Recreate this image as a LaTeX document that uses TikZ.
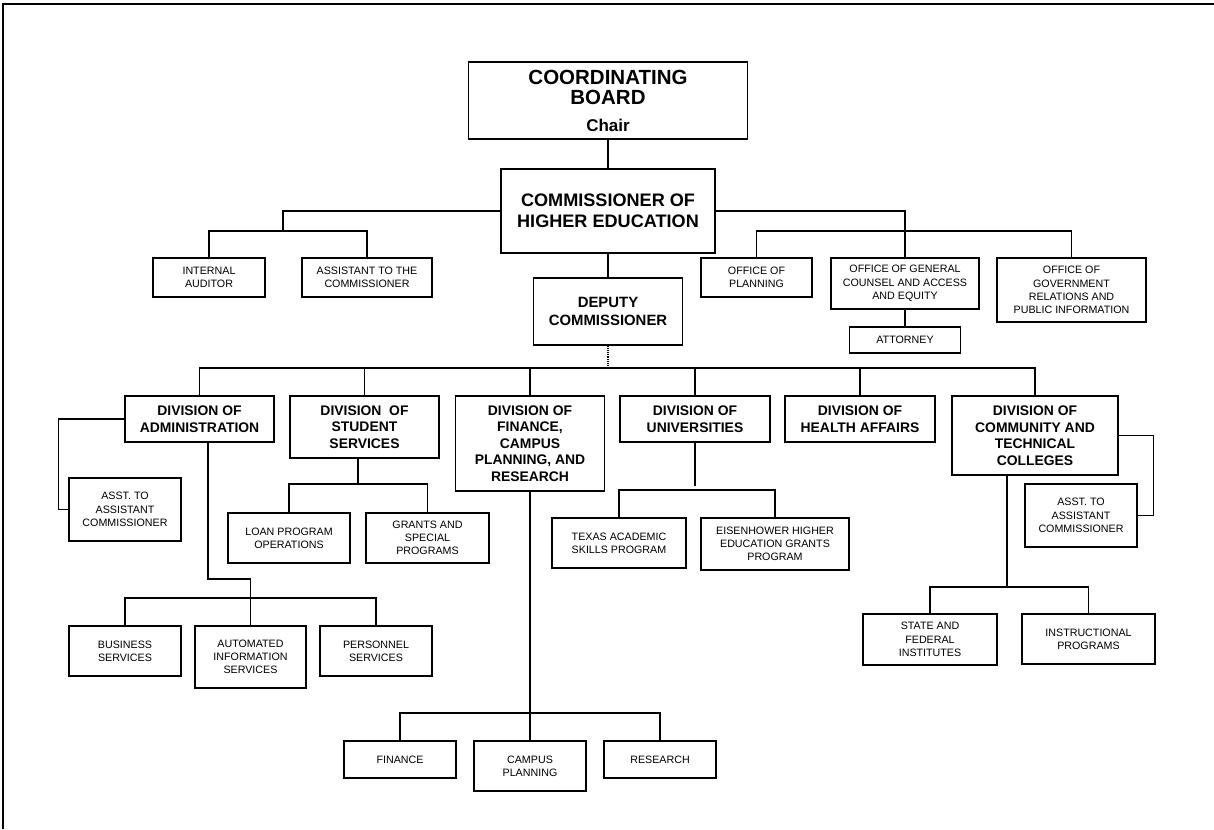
\documentclass[tikz,border=0pt]{standalone}
\usepackage{fontspec}
\setmainfont{Liberation Sans}

\begin{document}
\begin{tikzpicture}[x=1pt,y=-1pt,
    box/.style={draw, line width=1.2pt, align=center, inner sep=0pt},
    small/.style={box, font=\fontsize{10.7}{13.3}\selectfont},
    div/.style={box, font=\fontsize{13.9}{16.5}\selectfont\bfseries},
    wire/.style={line width=1.15pt}]
    \useasboundingbox (0,0) rectangle (1214,829);
    \draw [line width=1.4pt] (3,829) -- (3,4) -- (1214,4);
    % top of the chart
    \node [box, minimum width=279pt, minimum height=77pt, font=\fontsize{20.5}{20}\selectfont\bfseries] (board) at (608,100.5)
        {COORDINATING\\BOARD\\[7pt]{\fontsize{17}{18}\selectfont Chair}};
    \node [box, minimum width=214pt, minimum height=84pt, font=\fontsize{18.1}{20.7}\selectfont\bfseries] (comm) at (608,211) {COMMISSIONER OF\\HIGHER EDUCATION};
    \node [box, minimum width=149pt, minimum height=67pt, font=\fontsize{14.9}{17.7}\selectfont\bfseries] (deputy) at (608,311.5) {DEPUTY\\COMMISSIONER};
    \node [small, minimum width=112pt, minimum height=39pt] (audit) at (209,277.5) {INTERNAL\\AUDITOR};
    \node [small, minimum width=130pt, minimum height=39pt] (assist) at (367,277.5) {ASSISTANT TO THE\\COMMISSIONER};
    \node [small, minimum width=111pt, minimum height=39pt] (plan) at (756.5,277.5) {OFFICE OF\\PLANNING};
    \node [small, minimum width=148pt, minimum height=51pt] (counsel) at (905,283.5) {OFFICE OF GENERAL\\COUNSEL AND ACCESS\\AND EQUITY};
    \node [small, minimum width=111pt, minimum height=26pt] (attorney) at (905,340) {ATTORNEY};
    \node [small, minimum width=149pt, minimum height=64pt] (govt) at (1071.5,290) {OFFICE OF\\GOVERNMENT\\RELATIONS AND\\PUBLIC INFORMATION};
    % divisions
    \node [div, minimum width=149pt, minimum height=46pt] (admin) at (199.5,419) {DIVISION OF\\ADMINISTRATION};
    \node [div, minimum width=149pt, minimum height=62pt] (stud) at (364.5,427) {DIVISION\ \ OF\\STUDENT\\SERVICES};
    \node [div, minimum width=149pt, minimum height=95pt] (fin) at (530,443.5) {DIVISION OF\\FINANCE,\\CAMPUS\\PLANNING, AND\\RESEARCH};
    \node [div, minimum width=150pt, minimum height=46pt] (univ) at (695,419) {DIVISION OF\\UNIVERSITIES};
    \node [div, minimum width=150pt, minimum height=46pt] (health) at (860,419) {DIVISION OF\\HEALTH AFFAIRS};
    \node [div, minimum width=166pt, minimum height=79pt] (ctc) at (1035,435.5) {DIVISION OF\\COMMUNITY AND\\TECHNICAL\\COLLEGES};
    % offices under the divisions
    \node [small, minimum width=112pt, minimum height=63pt] (asstL) at (125,509.5) {ASST. TO\\ASSISTANT\\COMMISSIONER};
    \node [small, minimum width=112pt, minimum height=50pt] (busi) at (125,651) {BUSINESS\\SERVICES};
    \node [small, minimum width=111pt, minimum height=62pt] (auto) at (250.5,657) {AUTOMATED\\INFORMATION\\SERVICES};
    \node [small, minimum width=112pt, minimum height=50pt] (pers) at (376,651) {PERSONNEL\\SERVICES};
    \node [small, minimum width=122pt, minimum height=50pt] (loan) at (289,538) {LOAN PROGRAM\\OPERATIONS};
    \node [small, minimum width=123pt, minimum height=50pt] (grant) at (427.5,538) {GRANTS AND\\SPECIAL\\PROGRAMS};
    \node [small, minimum width=134pt, minimum height=50pt] (texas) at (619,543) {TEXAS ACADEMIC\\SKILLS PROGRAM};
    \node [small, minimum width=148pt, minimum height=52pt] (eisen) at (775,544) {EISENHOWER HIGHER\\EDUCATION GRANTS\\PROGRAM};
    \node [small, minimum width=112pt, minimum height=37pt] (finance) at (400,759.5) {FINANCE};
    \node [small, minimum width=112pt, minimum height=50pt] (campus) at (530,766) {CAMPUS\\PLANNING};
    \node [small, minimum width=112pt, minimum height=37pt] (research) at (660,759.5) {RESEARCH};
    \node [small, minimum width=112pt, minimum height=63pt] (asstR) at (1081,515.5) {ASST. TO\\ASSISTANT\\COMMISSIONER};
    \node [small, minimum width=134pt, minimum height=51pt] (state) at (930,639.5) {STATE AND\\FEDERAL\\INSTITUTES};
    \node [small, minimum width=133pt, minimum height=50pt] (instr) at (1088.5,639) {INSTRUCTIONAL\\PROGRAMS};
    % bus points
    \coordinate (lbus) at (283,231);
    \coordinate (rbus) at (905,231);
    \coordinate (busL) at (199.5,368);
    \coordinate (busR) at (1035,368);
    \coordinate (admbus) at (250.5,598);
    \coordinate (studbus) at (358,484);
    \coordinate (univbus) at (695,490);
    \coordinate (finbus) at (530,713);
    \coordinate (ctcbus) at (1007,587);
    % connectors
    \draw [wire] (board.south) -- (comm.north);
    \draw [wire] (comm.west) -| (lbus);
    \draw [wire] (audit.north) |- (lbus) -| (assist.north);
    \draw [wire] (comm.east) -| (counsel.north);
    \draw [wire] (plan.north) |- (rbus) -| (govt.north);
    \draw [wire] (counsel.south) -- (attorney.north);
    \draw [wire] (comm.south) -- (deputy.north);
    \draw [wire, densely dotted] (deputy.south) -- (deputy.south |- busL);
    \draw [wire] (admin.north) -- (busL) -- (busR) -- (ctc.north);
    \foreach \d in {stud,fin,univ,health}
        \draw [wire] (\d.north) -- (\d.north |- busL);
    \draw [wire] (admin.west) -- ++(-66,0) |- (asstL.west);
    \draw [wire] ([xshift=8.5pt]admin.south) |- (auto.north |- 0,579) -- (auto.north);
    \draw [wire] (busi.north) |- (admbus) -| (pers.north);
    \draw [wire] ([xshift=-6.5pt]stud.south) -- (studbus);
    \draw [wire] (loan.north) |- (studbus) -| (grant.north);
    \draw [wire] (univ.south) -- ([yshift=4pt]univbus);
    \draw [wire] (texas.north) |- (univbus) -| (eisen.north);
    \draw [wire] (fin.south) -- (finbus) -- (campus.north);
    \draw [wire] (finance.north) |- (finbus) -| (research.north);
    \draw [wire] ([xshift=-28pt]ctc.south) -- (ctcbus);
    \draw [wire] (state.north) |- (ctcbus) -| (instr.north);
    \draw [wire] (ctc.east) -- ++(35,0) |- (asstR.east);
\end{tikzpicture}
\end{document}
